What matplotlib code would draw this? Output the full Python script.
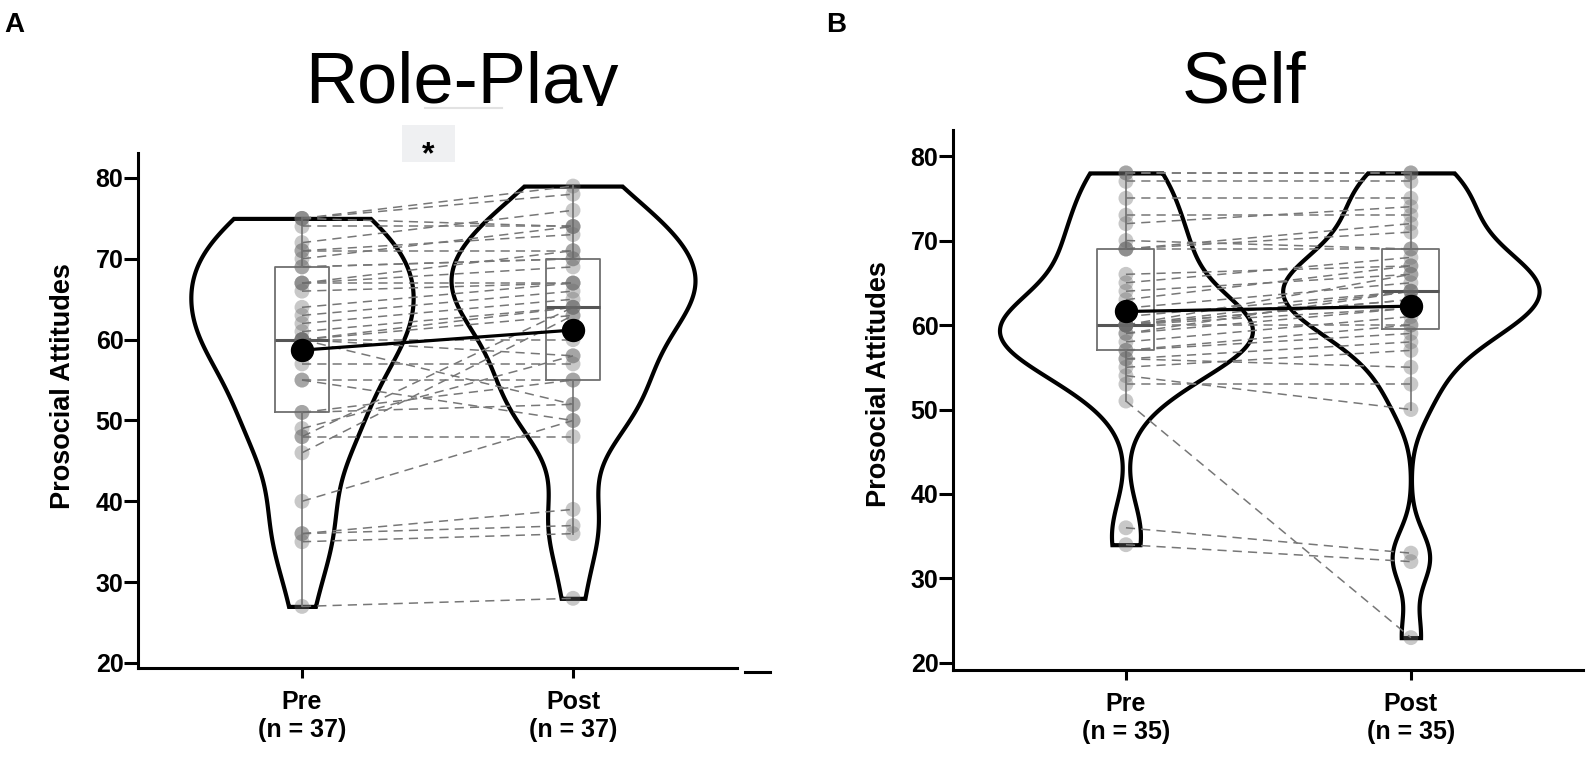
import numpy as np
import matplotlib.pyplot as plt
from matplotlib.lines import Line2D
from matplotlib.patches import Rectangle
from matplotlib.transforms import Bbox, TransformedBbox

plt.rcParams['font.family'] = ['Liberation Sans', 'DejaVu Sans']

# Prosocial attitude scores, one entry per participant (pre and post are paired)
rp_pre = [27, 35, 36, 36, 40, 46, 48, 48, 49, 51, 51, 55, 55, 57, 60, 60, 60, 60, 60,
          61, 62, 63, 64, 66, 67, 67, 67, 69, 69, 70, 71, 71, 72, 74, 75, 75, 75]
rp_post = [28, 36, 37, 39, 50, 63, 48, 64, 58, 55, 52, 55, 50, 57, 52, 60, 63, 64, 58,
           64, 65, 66, 67, 67, 69, 67, 71, 70, 70, 74, 71, 73, 76, 74, 74, 78, 79]

self_pre = [34, 36, 51, 53, 54, 55, 56, 56, 57, 57, 58, 59, 59, 60, 60, 60, 60, 60,
            60, 61, 62, 63, 64, 65, 66, 69, 69, 69, 70, 72, 73, 75, 77, 78, 78]
self_post = [32, 33, 23, 53, 50, 57, 55, 58, 60, 59, 61, 62, 64, 60, 63, 62, 64, 63,
             66, 64, 65, 67, 66, 68, 67, 69, 72, 71, 69, 74, 73, 75, 77, 78, 78]

yticks = [20, 30, 40, 50, 60, 70, 80]


def nrd0(v):
    v = np.asarray(v, float)
    iqr = np.subtract(*np.percentile(v, [75, 25]))
    return 0.9 * min(v.std(ddof=1), iqr / 1.34) * len(v) ** -0.2


def density(v):
    v = np.asarray(v, float)
    bw = nrd0(v)
    grid = np.linspace(v.min(), v.max(), 512)
    d = np.exp(-0.5 * ((grid[:, None] - v[None, :]) / bw) ** 2).sum(1)
    d /= len(v) * bw * np.sqrt(2 * np.pi)
    return grid, d


def panel(ax, pre, post, ylim, xlim):
    groups = [pre, post]
    dens = [density(g) for g in groups]
    dmax = max(d.max() for _, d in dens)
    # violins, area scaled like ggplot
    for x, (grid, d) in enumerate(dens):
        hw = 0.45 * d / dmax
        ax.fill_betweenx(grid, x - hw, x + hw, facecolor='white',
                         edgecolor='black', linewidth=3, zorder=1,
                         joinstyle='miter')
    # paired lines
    for a, b in zip(pre, post):
        ax.plot([0, 1], [a, b], color='#777777', lw=1.1,
                linestyle=(0, (6, 4)), zorder=2)
    ax.boxplot(groups, positions=[0, 1], widths=0.2, whis=1.5,
               showfliers=False, showcaps=False,
               boxprops=dict(color='#707070', lw=1.3),
               whiskerprops=dict(color='#808080', lw=1.3),
               medianprops=dict(color='#555555', lw=2.2),
               zorder=3, manage_ticks=False)
    for x, g in enumerate(groups):
        ax.scatter(np.full(len(g), x), g, s=115, color='#6a6a6a',
                   alpha=0.37, edgecolors='none', zorder=4)
    means = [np.mean(g) for g in groups]
    ax.plot([0, 1], means, color='black', lw=2.3, zorder=5)
    ax.scatter([0, 1], means, s=250, color='black', zorder=6)

    ax.set_xlim(*xlim)
    ax.set_ylim(*ylim)
    ax.set_yticks(yticks)
    ax.set_xticks([0, 1])
    n = len(pre)
    ax.set_xticklabels([f'Pre\n(n = {n})', f'Post\n(n = {n})'])
    for s in ['top', 'right']:
        ax.spines[s].set_visible(False)
    for s in ['left', 'bottom']:
        ax.spines[s].set_linewidth(2.2)
    ax.tick_params(axis='y', length=10, width=2.2, pad=0.5, labelsize=18)
    ax.tick_params(axis='x', length=7, width=2.2, pad=9, labelsize=18)
    for lbl in ax.get_xticklabels() + ax.get_yticklabels():
        lbl.set_fontweight('bold')


fig = plt.figure(figsize=(15.95, 7.6), dpi=100)
axA = fig.add_axes([0.08652, 0.12105, 0.37555, 0.67763])
axB = fig.add_axes([0.59749, 0.11842, 0.39498, 0.71053])

panel(axA, rp_pre, rp_post, (19.38, 83.09), (-0.605, 1.605))
panel(axB, self_pre, self_post, (19.17, 83.08), (-0.607, 1.604))

# titles (bottom edge cropped in the source figure)
title_clip = TransformedBbox(Bbox([[0, 1 - 106 / 760], [1, 1]]), fig.transFigure)
for x, t in [(0.1912, 'Role-Play'), (0.7411, 'Self')]:
    tt = fig.text(x, 0.8645, t, fontsize=52, ha='left', va='baseline')
    tt.set_clip_box(title_clip)
    tt.set_clip_on(True)

fig.text(0.0025, 0.9579, 'A', fontsize=20, fontweight='bold', va='baseline')
fig.text(0.518, 0.9579, 'B', fontsize=20, fontweight='bold', va='baseline')
fig.text(0.0392, 0.492, 'Prosocial Attitudes', fontsize=19.5, fontweight='bold',
         rotation=90, ha='center', va='center')
fig.text(0.551, 0.494, 'Prosocial Attitudes', fontsize=19.5, fontweight='bold',
         rotation=90, ha='center', va='center')

# significance marker
fig.patches.append(Rectangle((402 / 1595, 1 - 162 / 760), 53 / 1595, 37 / 760,
                             transform=fig.transFigure, facecolor='#eff0f2',
                             edgecolor='none'))
fig.text(428 / 1595, 1 - 163 / 760, '*', fontsize=23, fontweight='bold',
         ha='center', va='baseline')

# small stray marks present in the source figure
fig.lines.append(Line2D([425 / 1595, 502 / 1595], [1 - 108 / 760] * 2,
                        transform=fig.transFigure, color='#e2e2e2', lw=1.5))
fig.lines.append(Line2D([745 / 1595, 770 / 1595], [1 - 672 / 760] * 2,
                        transform=fig.transFigure, color='black', lw=2.2))

fig.savefig('out.png', dpi=100)
